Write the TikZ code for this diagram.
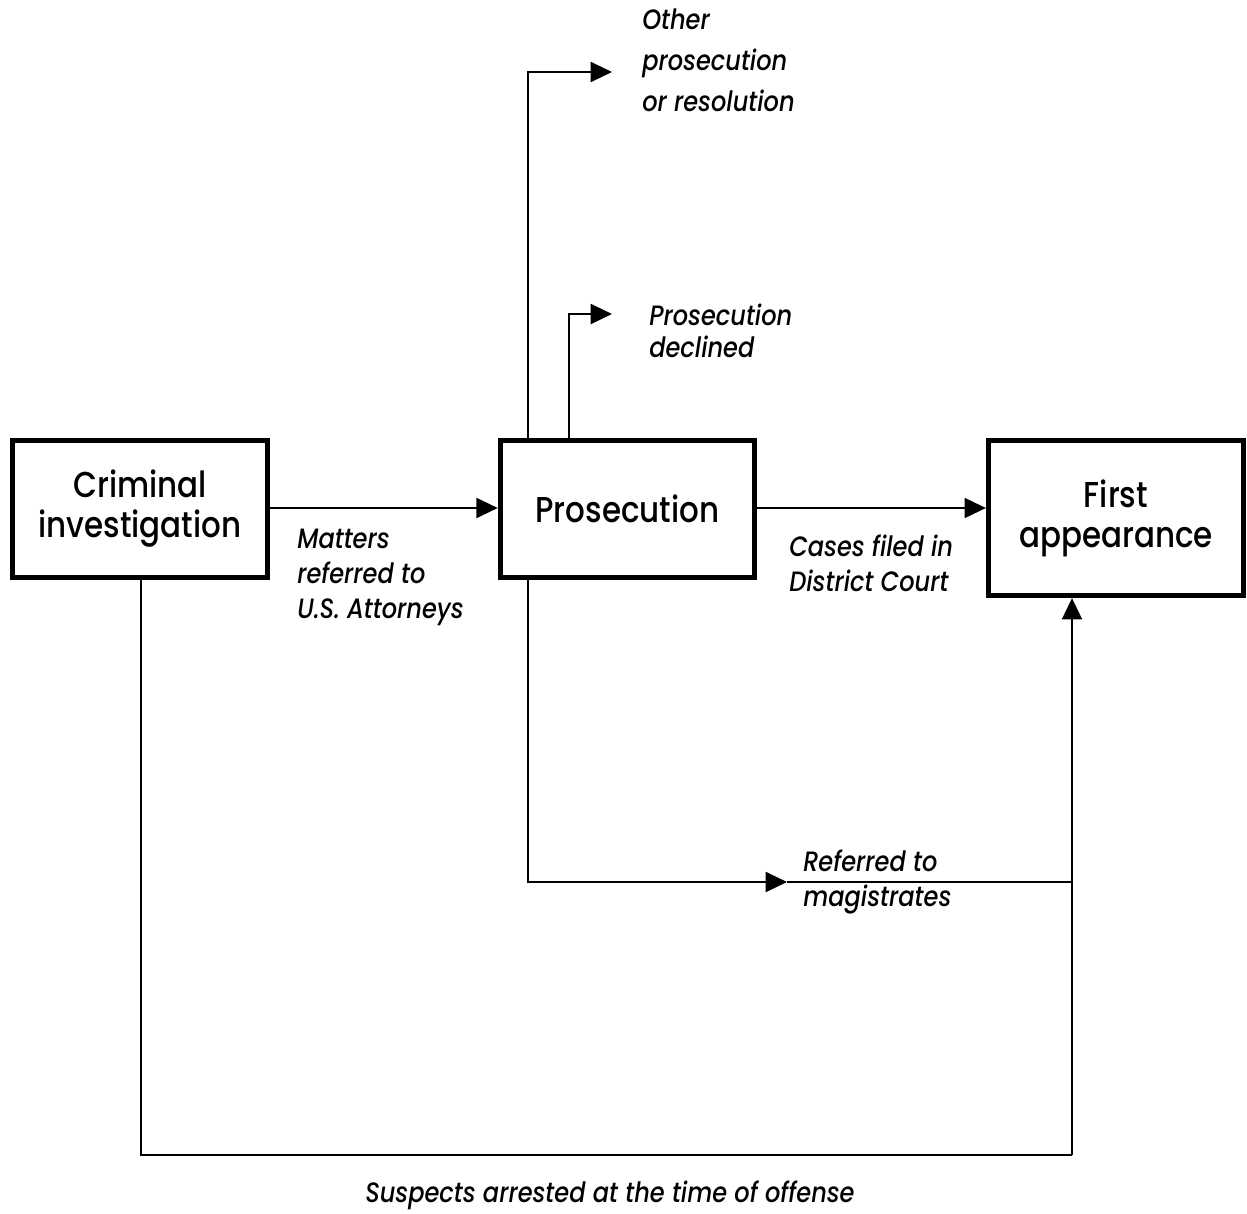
\documentclass[tikz,border=0pt]{standalone}
\usepackage{fontspec}
\setmainfont[FakeStretch=0.86,UprightFont={* Medium},ItalicFont={* Medium Italic}]{Poppins}
\usetikzlibrary{arrows.meta}
\begin{document}
\begin{tikzpicture}[x=0.75pt,y=-0.75pt,
  box/.style={draw,line width=4.2pt,inner sep=0pt,align=center,font=\fontsize{27}{30}\selectfont},
  conn/.style={line width=1.6pt},
  tip/.style={-{Triangle[length=16pt,width=15pt]}},
  lab/.style={anchor=north west,align=left,inner sep=0pt,font=\fontsize{21}{26}\selectfont\itshape}]
\useasboundingbox (0,0) rectangle (1247,1214);
\node[box,minimum width=191pt,minimum height=103pt] (ci) at (140,509) {Criminal\\investigation};
\node[box,minimum width=190.5pt,minimum height=103pt] (pros) at (627.5,509) {Prosecution};
\node[box,minimum width=191pt,minimum height=116pt] (fa) at (1116,518) {First\\appearance};
\coordinate (tipO) at (612,72);
\coordinate (tipD) at (612,314);
\coordinate (mag) at (787,882);
\coordinate (jn) at (1072,882);
\coordinate (bl) at (141,1155);
\coordinate (br) at (1072,1155);
% main flow
\draw[conn,tip] (ci.east |- 0,508) -- (pros.west |- 0,508);
\draw[conn,tip] (pros.east |- 0,508) -- (fa.west |- 0,508);
% outputs from prosecution
\draw[conn,tip] (pros.north -| 528,0) |- (tipO);
\draw[conn,tip] (pros.north -| 569,0) |- (tipD);
\draw[conn,tip] (pros.south -| 528,0) |- (mag);
\draw[conn] (mag) -- (jn);
% arrests
\draw[conn] (ci.south -| bl) -- (bl) -- (br);
\draw[conn,tip] (br) -- (fa.south -| br);
% labels
\node[lab,font=\fontsize{21}{30.5}\selectfont\itshape] (lo) at (642,9) {Other\\prosecution\\or resolution};
\node[lab,font=\fontsize{21}{24}\selectfont\itshape] (ld) at (649,304) {Prosecution\\declined};
\node[lab] (lm) at (297,529) {Matters\\referred to\\U.S. Attorneys};
\node[lab] (lc) at (789,535) {Cases filed in\\District Court};
\node[lab] (lr) at (803,850) {Referred to\\magistrates};
\node[lab,anchor=center,align=center] (ls) at (610,1195) {Suspects arrested at the time of offense};
\end{tikzpicture}
\end{document}
